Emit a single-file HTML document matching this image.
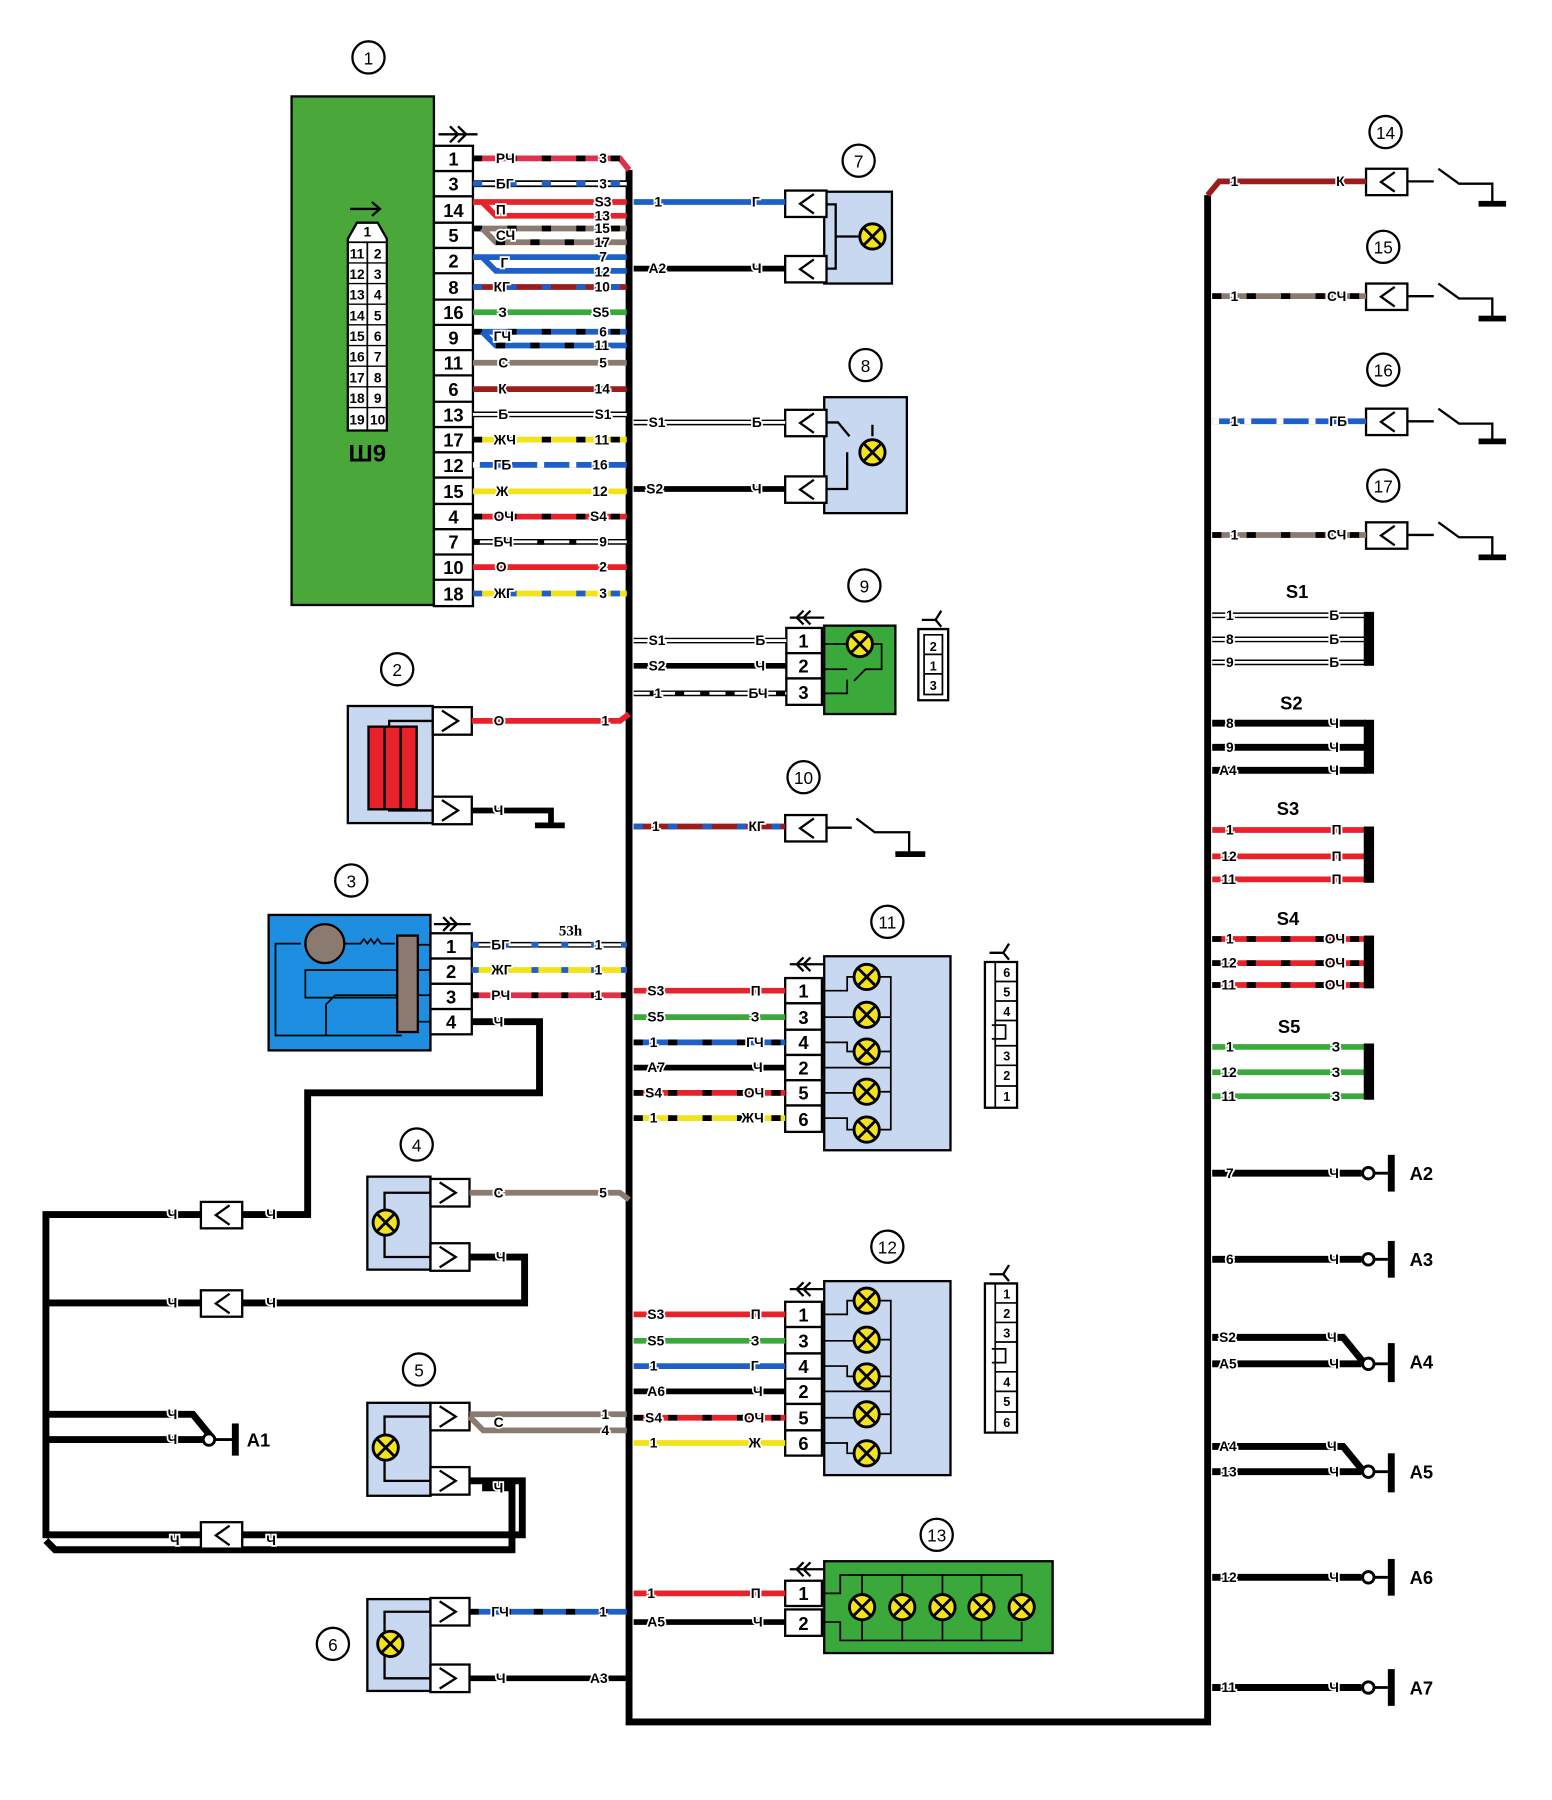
<!DOCTYPE html>
<html><head><meta charset="utf-8"><style>
html,body{margin:0;padding:0;background:#fff}
svg{display:block}
.t{font:bold 12px "Liberation Sans",sans-serif;fill:#000;paint-order:stroke;stroke:#fff;stroke-width:3px}
.n{font:bold 16px "Liberation Sans",sans-serif;fill:#000;text-anchor:middle}
.c{font:15px "Liberation Sans",sans-serif;fill:#000;text-anchor:middle}
.s{font:bold 11px "Liberation Sans",sans-serif;fill:#000;text-anchor:middle}
.L{font:bold 16px "Liberation Sans",sans-serif;fill:#000}
</style></head><body>
<svg width="1552" height="1800" viewBox="0 0 1352 1568" preserveAspectRatio="none" xmlns="http://www.w3.org/2000/svg">
<defs>
<g id="lamp"><circle r="11" fill="#f5e21e" stroke="#000" stroke-width="2.5"/><path d="M-7,-7L7,7M7,-7L-7,7" stroke="#000" stroke-width="2.5"/></g>
<g id="fc"><rect x="0" y="0" width="36" height="23" fill="#fff" stroke="#000" stroke-width="2"/><path d="M25,3L13,11.5L25,20" fill="none" stroke="#000" stroke-width="2"/></g>
<g id="mc"><rect x="0" y="0" width="34" height="24" fill="#fff" stroke="#000" stroke-width="2"/><path d="M8,3L22,12L8,21" fill="none" stroke="#000" stroke-width="2"/></g>
<g id="gnd"><path d="M0,0h-12M-12,0" stroke="#000" stroke-width="2"/></g>
</defs>
<rect width="1352" height="1568" fill="#fff"/>

<!-- MAIN BUS -->
<path d="M548,148V1500H1052V170" fill="none" stroke="#000" stroke-width="6"/>

<!-- COMPONENT 1 -->
<circle cx="321" cy="50" r="14" fill="#fff" stroke="#000" stroke-width="2"/><text class="c" x="321" y="56">1</text>
<rect x="254" y="84" width="124" height="443" fill="#4aa83a" stroke="#000" stroke-width="2"/>
<path d="M305,182h26M324,176l7,6l-7,6" fill="none" stroke="#000" stroke-width="2"/>
<path d="M303,375V208l8,-14h18l8,14V375Z" fill="#fff" stroke="#000" stroke-width="2"/>
<path d="M303,211h34M320,211V375" stroke="#000" stroke-width="1.5"/>
<g stroke="#000" stroke-width="1.2"><path d="M303,229h34M303,247h34M303,265h34M303,283h34M303,301h34M303,319h34M303,337h34M303,355h34"/></g>
<g class="s" style="font-size:12px"><text x="320" y="206">1</text>
<text x="311" y="225">11</text><text x="329" y="225">2</text>
<text x="311" y="243">12</text><text x="329" y="243">3</text>
<text x="311" y="261">13</text><text x="329" y="261">4</text>
<text x="311" y="279">14</text><text x="329" y="279">5</text>
<text x="311" y="297">15</text><text x="329" y="297">6</text>
<text x="311" y="315">16</text><text x="329" y="315">7</text>
<text x="311" y="333">17</text><text x="329" y="333">8</text>
<text x="311" y="351">18</text><text x="329" y="351">9</text>
<text x="311" y="370">19</text><text x="329" y="370">10</text></g>
<text x="320" y="402" style="font:bold 21px 'Liberation Sans',sans-serif;text-anchor:middle">Ш9</text>
<path d="M382,117h34M392,110l7,7l-7,7M399,110l7,7l-7,7" fill="none" stroke="#000" stroke-width="2"/>
<g fill="#fff" stroke="#000" stroke-width="2">
<rect x="378" y="127" width="34" height="401"/></g>
<g stroke="#000" stroke-width="2"><path d="M378,149h34M378,171h34M378,194h34M378,216h34M378,238h34M378,261h34M378,283h34M378,305h34M378,327h34M378,350h34M378,372h34M378,394h34M378,416h34M378,439h34M378,461h34M378,483h34M378,505h34"/></g>
<g class="n"><text x="395" y="144">1</text><text x="395" y="166">3</text><text x="395" y="189">14</text><text x="395" y="211">5</text><text x="395" y="233">2</text><text x="395" y="256">8</text><text x="395" y="278">16</text><text x="395" y="300">9</text><text x="395" y="322">11</text><text x="395" y="345">6</text><text x="395" y="367">13</text><text x="395" y="389">17</text><text x="395" y="411">12</text><text x="395" y="434">15</text><text x="395" y="456">4</text><text x="395" y="478">7</text><text x="395" y="500">10</text><text x="395" y="523">18</text></g>

<!-- wires from comp 1 -->
<g fill="none" stroke-width="5">
<path d="M412,138H540l8,10" stroke="#e0304a"/><path d="M412,138H540" stroke="#000" stroke-dasharray="8 22"/>
<path d="M412,160H546" stroke="#000" stroke-width="6"/><path d="M412,160H546" stroke="#fff" stroke-width="3"/><path d="M412,160H546" stroke="#1f5fc8" stroke-dasharray="8 22"/>
<path d="M412,176H546" stroke="#e8222a"/><path d="M420,176l12,12H546" stroke="#e8222a"/>
<path d="M412,199H546" stroke="#8a7a70"/><path d="M412,199H546" stroke="#000" stroke-dasharray="8 22"/><path d="M420,199l12,12H546" stroke="#8a7a70"/><path d="M432,211H546" stroke="#000" stroke-dasharray="8 22"/>
<path d="M412,224H546" stroke="#1f5fc8"/><path d="M420,224l12,12H546" stroke="#1f5fc8"/>
<path d="M412,250H546" stroke="#9b1c1c"/><path d="M412,250H546" stroke="#1f5fc8" stroke-dasharray="8 22"/>
<path d="M412,272H546" stroke="#3aa83a"/>
<path d="M412,289H546" stroke="#1f5fc8"/><path d="M412,289H546" stroke="#000" stroke-dasharray="8 22"/><path d="M420,289l12,12H546" stroke="#1f5fc8"/><path d="M432,301H546" stroke="#000" stroke-dasharray="8 22"/>
<path d="M412,316H546" stroke="#8a7a70"/>
<path d="M412,339H546" stroke="#9b1c1c"/>
<path d="M412,361H546" stroke="#000" stroke-width="5"/><path d="M412,361H546" stroke="#fff" stroke-width="2.5"/>
<path d="M412,383H546" stroke="#f2e21a"/><path d="M412,383H546" stroke="#000" stroke-dasharray="8 22"/>
<path d="M412,405H546" stroke="#1f5fc8"/><path d="M412,405H546" stroke="#fff" stroke-dasharray="6 22"/>
<path d="M412,428H546" stroke="#f2e21a"/>
<path d="M412,450H546" stroke="#e8222a"/><path d="M412,450H546" stroke="#000" stroke-dasharray="8 22"/>
<path d="M412,472H546" stroke="#000" stroke-width="5"/><path d="M412,472H546" stroke="#fff" stroke-width="2.5"/><path d="M412,472H546" stroke="#000" stroke-dasharray="6 22"/>
<path d="M412,494H546" stroke="#e8222a"/>
<path d="M412,517H546" stroke="#f2e21a"/><path d="M412,517H546" stroke="#1f5fc8" stroke-dasharray="8 22"/>
</g>
<g class="t">
<text x="432" y="142">РЧ</text><text x="522" y="142">3</text>
<text x="432" y="164">БГ</text><text x="522" y="164">3</text>
<text x="432" y="187">П</text><text x="518" y="180">S3</text><text x="518" y="192">13</text>
<text x="432" y="209">СЧ</text><text x="518" y="203">15</text><text x="518" y="215">17</text>
<text x="436" y="233">Г</text><text x="522" y="228">7</text><text x="518" y="241">12</text>
<text x="430" y="254">КГ</text><text x="518" y="254">10</text>
<text x="434" y="276">З</text><text x="516" y="276">S5</text>
<text x="430" y="297">ГЧ</text><text x="522" y="293">6</text><text x="518" y="305">11</text>
<text x="434" y="320">С</text><text x="522" y="320">5</text>
<text x="434" y="343">К</text><text x="518" y="343">14</text>
<text x="434" y="365">Б</text><text x="518" y="365">S1</text>
<text x="430" y="387">ЖЧ</text><text x="518" y="387">11</text>
<text x="430" y="409">ГБ</text><text x="516" y="409">16</text>
<text x="432" y="432">Ж</text><text x="516" y="432">12</text>
<text x="430" y="454">ОЧ</text><text x="514" y="454">S4</text>
<text x="430" y="476">БЧ</text><text x="522" y="476">9</text>
<text x="432" y="498">О</text><text x="522" y="498">2</text>
<text x="430" y="521">ЖГ</text><text x="522" y="521">3</text>
</g>

<!-- COMPONENT 7 -->
<circle cx="748" cy="140" r="14" fill="#fff" stroke="#000" stroke-width="2"/><text class="c" x="748" y="146">7</text>
<rect x="718" y="167" width="59" height="80" fill="#c8d8f0" stroke="#000" stroke-width="2"/>
<path d="M718,178h10v56h-10M728,206h20" fill="none" stroke="#000" stroke-width="2"/>
<use href="#fc" x="684" y="166"/><use href="#fc" x="684" y="223"/>
<use href="#lamp" x="760" y="206"/>
<path d="M552,176H684" stroke="#1f5fc8" stroke-width="5"/><path d="M552,234H684" stroke="#000" stroke-width="5"/>
<g class="t"><text x="570" y="180">1</text><text x="655" y="180">Г</text><text x="565" y="238">А2</text><text x="655" y="238">Ч</text></g>

<!-- COMPONENT 8 -->
<circle cx="754" cy="318" r="14" fill="#fff" stroke="#000" stroke-width="2"/><text class="c" x="754" y="324">8</text>
<rect x="718" y="346" width="72" height="101" fill="#c8d8f0" stroke="#000" stroke-width="2"/>
<path d="M718,368h12l10,12M744,384h0M718,426h20v-32M760,380v-10" fill="none" stroke="#000" stroke-width="2"/>
<use href="#fc" x="684" y="357"/><use href="#fc" x="684" y="415"/>
<use href="#lamp" x="760" y="394"/>
<path d="M552,368H684" stroke="#000" stroke-width="5"/><path d="M552,368H684" stroke="#fff" stroke-width="2.5"/>
<path d="M552,426H684" stroke="#000" stroke-width="5"/>
<g class="t"><text x="565" y="372">S1</text><text x="655" y="372">Б</text><text x="563" y="430">S2</text><text x="655" y="430">Ч</text></g>

<!-- COMPONENT 9 -->
<circle cx="753" cy="510" r="14" fill="#fff" stroke="#000" stroke-width="2"/><text class="c" x="753" y="516">9</text>
<rect x="718" y="545" width="62" height="77" fill="#3aa83a" stroke="#000" stroke-width="2"/>
<path d="M716,561h24M758,561h10v22h-14l-10,10M716,583h22M716,604h22v-12" fill="none" stroke="#000" stroke-width="1.5"/>
<use href="#lamp" x="749" y="561"/>
<path d="M688,538h30M700,532l-6,6l6,6M706,532l-6,6l6,6" fill="none" stroke="#000" stroke-width="2"/>
<g fill="#fff" stroke="#000" stroke-width="2"><rect x="685" y="547" width="31" height="22"/><rect x="685" y="569" width="31" height="22"/><rect x="685" y="591" width="31" height="23"/></g>
<g class="n"><text x="700" y="564">1</text><text x="700" y="586">2</text><text x="700" y="609">3</text></g>
<path d="M800,548h26v62h-26Z" fill="#fff" stroke="#000" stroke-width="2"/><path d="M805,553h16v52h-16ZM805,570h16M805,587h16" fill="none" stroke="#000" stroke-width="1.5"/>
<path d="M803,540h12l5,-8M815,540l5,6" fill="none" stroke="#000" stroke-width="2"/>
<g class="s"><text x="813" y="567">2</text><text x="813" y="584">1</text><text x="813" y="601">3</text></g>
<path d="M552,558H685" stroke="#000" stroke-width="5"/><path d="M552,558H685" stroke="#fff" stroke-width="2.5"/>
<path d="M552,580H685" stroke="#000" stroke-width="5"/>
<path d="M552,604H685" stroke="#000" stroke-width="5"/><path d="M552,604H685" stroke="#fff" stroke-width="2.5" stroke-dasharray="14 8"/>
<g class="t"><text x="565" y="562">S1</text><text x="658" y="562">Б</text><text x="565" y="584">S2</text><text x="658" y="584">Ч</text><text x="570" y="608">1</text><text x="652" y="608">БЧ</text></g>

<!-- COMPONENT 10 -->
<circle cx="700" cy="677" r="14" fill="#fff" stroke="#000" stroke-width="2"/><text class="c" x="700" y="683">10</text>
<use href="#fc" x="684" y="710"/>
<path d="M720,721h22M746,713l16,12h30v18M780,743h26" fill="none" stroke="#000" stroke-width="2"/>
<path d="M780,744h26" stroke="#000" stroke-width="5"/>
<path d="M552,720H684" stroke="#9b1c1c" stroke-width="5"/><path d="M552,720H684" stroke="#1f5fc8" stroke-width="5" stroke-dasharray="8 22"/>
<g class="t"><text x="568" y="724">1</text><text x="652" y="724">КГ</text></g>

<!-- COMPONENT 11 -->
<circle cx="773" cy="803" r="14" fill="#fff" stroke="#000" stroke-width="2"/><text class="c" x="773" y="809">11</text>
<rect x="718" y="833" width="110" height="169" fill="#c8d8f0" stroke="#000" stroke-width="2"/>
<path d="M688,840h30M700,834l-6,6l6,6M706,834l-6,6l6,6" fill="none" stroke="#000" stroke-width="2"/>
<path d="M716,863h22v-12h6M716,886h28M716,908h22v8h6M716,930h60M716,952h28M716,974h22v10h6M766,851h10v133h-10M766,886h10M766,916h10M766,951h10" fill="none" stroke="#000" stroke-width="1.5"/>
<use href="#lamp" x="755" y="851"/><use href="#lamp" x="755" y="884"/><use href="#lamp" x="755" y="916"/><use href="#lamp" x="755" y="951"/><use href="#lamp" x="755" y="984"/>
<g fill="#fff" stroke="#000" stroke-width="2"><rect x="684" y="852" width="32" height="22"/><rect x="684" y="874" width="32" height="23"/><rect x="684" y="897" width="32" height="22"/><rect x="684" y="919" width="32" height="22"/><rect x="684" y="941" width="32" height="22"/><rect x="684" y="963" width="32" height="23"/></g>
<g class="n"><text x="700" y="869">1</text><text x="700" y="892">3</text><text x="700" y="914">4</text><text x="700" y="936">2</text><text x="700" y="958">5</text><text x="700" y="981">6</text></g>
<path d="M858,838h28v127h-28Z" fill="#fff" stroke="#000" stroke-width="2"/><path d="M867,838v127M867,855h19M867,872h19M867,889h19M867,911h19M867,928h19M867,946h19M864,893h12v12h-12" fill="none" stroke="#000" stroke-width="1.5"/>
<path d="M862,830h12l5,-8M874,830l5,6" fill="none" stroke="#000" stroke-width="2"/>
<g class="s"><text x="877" y="851">6</text><text x="877" y="868">5</text><text x="877" y="885">4</text><text x="877" y="924">3</text><text x="877" y="941">2</text><text x="877" y="959">1</text></g>
<g fill="none" stroke-width="5">
<path d="M552,863H684" stroke="#e8222a"/>
<path d="M552,886H684" stroke="#3aa83a"/>
<path d="M552,908H684" stroke="#1f5fc8"/><path d="M552,908H684" stroke="#000" stroke-dasharray="8 22"/>
<path d="M552,930H684" stroke="#000"/>
<path d="M552,952H684" stroke="#e8222a"/><path d="M552,952H684" stroke="#000" stroke-dasharray="8 22"/>
<path d="M552,974H684" stroke="#f2e21a"/><path d="M552,974H684" stroke="#000" stroke-dasharray="8 22"/>
</g>
<g class="t"><text x="564" y="867">S3</text><text x="654" y="867">П</text><text x="564" y="890">S5</text><text x="654" y="890">З</text><text x="566" y="912">1</text><text x="650" y="912">ГЧ</text><text x="564" y="934">А7</text><text x="656" y="934">Ч</text><text x="562" y="956">S4</text><text x="648" y="956">ОЧ</text><text x="566" y="978">1</text><text x="646" y="978">ЖЧ</text></g>

<!-- COMPONENT 12 -->
<circle cx="773" cy="1086" r="14" fill="#fff" stroke="#000" stroke-width="2"/><text class="c" x="773" y="1092">12</text>
<rect x="718" y="1116" width="110" height="169" fill="#c8d8f0" stroke="#000" stroke-width="2"/>
<path d="M688,1123h30M700,1117l-6,6l6,6M706,1117l-6,6l6,6" fill="none" stroke="#000" stroke-width="2"/>
<path d="M716,1145h22v-12h6M716,1168h28M716,1190h22v9h6M716,1212h60M716,1235h28M716,1257h22v9h6M766,1133h10v133h-10M766,1167h10M766,1199h10M766,1232h10" fill="none" stroke="#000" stroke-width="1.5"/>
<use href="#lamp" x="755" y="1133"/><use href="#lamp" x="755" y="1167"/><use href="#lamp" x="755" y="1199"/><use href="#lamp" x="755" y="1232"/><use href="#lamp" x="755" y="1266"/>
<g fill="#fff" stroke="#000" stroke-width="2"><rect x="684" y="1134" width="32" height="22"/><rect x="684" y="1156" width="32" height="23"/><rect x="684" y="1179" width="32" height="22"/><rect x="684" y="1201" width="32" height="22"/><rect x="684" y="1223" width="32" height="23"/><rect x="684" y="1246" width="32" height="22"/></g>
<g class="n"><text x="700" y="1151">1</text><text x="700" y="1174">3</text><text x="700" y="1196">4</text><text x="700" y="1218">2</text><text x="700" y="1241">5</text><text x="700" y="1263">6</text></g>
<path d="M858,1118h28v130h-28Z" fill="#fff" stroke="#000" stroke-width="2"/><path d="M867,1118v130M867,1135h19M867,1152h19M867,1169h19M867,1195h19M867,1212h19M867,1230h19M864,1175h12v12h-12" fill="none" stroke="#000" stroke-width="1.5"/>
<path d="M862,1110h12l5,-8M874,1110l5,6" fill="none" stroke="#000" stroke-width="2"/>
<g class="s"><text x="877" y="1131">1</text><text x="877" y="1148">2</text><text x="877" y="1165">3</text><text x="877" y="1208">4</text><text x="877" y="1225">5</text><text x="877" y="1243">6</text></g>
<g fill="none" stroke-width="5">
<path d="M552,1145H684" stroke="#e8222a"/>
<path d="M552,1168H684" stroke="#3aa83a"/>
<path d="M552,1190H684" stroke="#1f5fc8"/>
<path d="M552,1212H684" stroke="#000"/>
<path d="M552,1235H684" stroke="#e8222a"/><path d="M552,1235H684" stroke="#000" stroke-dasharray="8 22"/>
<path d="M552,1257H684" stroke="#f2e21a"/>
</g>
<g class="t"><text x="564" y="1149">S3</text><text x="654" y="1149">П</text><text x="564" y="1172">S5</text><text x="654" y="1172">З</text><text x="566" y="1194">1</text><text x="654" y="1194">Г</text><text x="564" y="1216">А6</text><text x="656" y="1216">Ч</text><text x="562" y="1239">S4</text><text x="648" y="1239">ОЧ</text><text x="566" y="1261">1</text><text x="652" y="1261">Ж</text></g>

<!-- COMPONENT 13 -->
<circle cx="816" cy="1337" r="14" fill="#fff" stroke="#000" stroke-width="2"/><text class="c" x="816" y="1343">13</text>
<rect x="718" y="1360" width="199" height="80" fill="#3aa83a" stroke="#000" stroke-width="2"/>
<path d="M688,1367h30M700,1361l-6,6l6,6M706,1361l-6,6l6,6" fill="none" stroke="#000" stroke-width="2"/>
<path d="M716,1388h16v-16h158v16M716,1413h16v16h158v-16M751,1372v17M786,1372v17M821,1372v17M855,1372v17M890,1372v17M751,1411v18M786,1411v18M821,1411v18M855,1411v18" fill="none" stroke="#000" stroke-width="1.5"/>
<use href="#lamp" x="751" y="1400"/><use href="#lamp" x="786" y="1400"/><use href="#lamp" x="821" y="1400"/><use href="#lamp" x="855" y="1400"/><use href="#lamp" x="890" y="1400"/>
<g fill="#fff" stroke="#000" stroke-width="2"><rect x="684" y="1377" width="32" height="22"/><rect x="684" y="1402" width="32" height="23"/></g>
<g class="n"><text x="700" y="1394">1</text><text x="700" y="1420">2</text></g>
<path d="M552,1388H684" stroke="#e8222a" stroke-width="5"/><path d="M552,1413H684" stroke="#000" stroke-width="5"/>
<g class="t"><text x="564" y="1392">1</text><text x="654" y="1392">П</text><text x="564" y="1417">А5</text><text x="656" y="1417">Ч</text></g>

<!-- COMPONENT 2 -->
<circle cx="346" cy="583" r="14" fill="#fff" stroke="#000" stroke-width="2"/><text class="c" x="346" y="589">2</text>
<rect x="303" y="615" width="74" height="102" fill="#c8d8f0" stroke="#000" stroke-width="2"/>
<path d="M377,628h-38v78h38" fill="none" stroke="#000" stroke-width="2"/>
<path d="M321,633h42v72h-42Z" fill="#e8222a" stroke="#000" stroke-width="2"/><path d="M335,633v72M349,633v72" stroke="#000" stroke-width="2"/>
<use href="#mc" x="377" y="616"/><use href="#mc" x="377" y="694"/>
<path d="M411,628H540l8,-6" stroke="#e8222a" stroke-width="5" fill="none"/>
<path d="M411,706H480v12M466,719h26" stroke="#000" stroke-width="5" fill="none"/>
<g class="t"><text x="430" y="632">О</text><text x="524" y="632">1</text><text x="430" y="710">Ч</text></g>

<!-- COMPONENT 3 -->
<circle cx="306" cy="767" r="14" fill="#fff" stroke="#000" stroke-width="2"/><text class="c" x="306" y="773">3</text>
<rect x="234" y="797" width="141" height="118" fill="#1e8fe0" stroke="#000" stroke-width="2"/>
<circle cx="283" cy="822" r="17" fill="#8a7a70" stroke="#000" stroke-width="2"/>
<path d="M262,822h-22v80h110M300,822h14l3,-4l3,4l3,-4l3,4l3,-4l3,4h12M350,845h-84v24h84M350,867h-58l-8,8v27M375,823h-20M375,845h-20M375,867h-20M375,890h-20" fill="none" stroke="#000" stroke-width="1.5"/>
<rect x="346" y="815" width="18" height="84" fill="#8a7a70" stroke="#000" stroke-width="2"/>
<path d="M378,805h32M386,799l6,6l-6,6M392,799l6,6l-6,6" fill="none" stroke="#000" stroke-width="2"/>
<g fill="#fff" stroke="#000" stroke-width="2"><rect x="375" y="813" width="36" height="22"/><rect x="375" y="835" width="36" height="22"/><rect x="375" y="857" width="36" height="22"/><rect x="375" y="879" width="36" height="22"/></g>
<g class="n"><text x="393" y="830">1</text><text x="393" y="852">2</text><text x="393" y="874">3</text><text x="393" y="896">4</text></g>
<g fill="none" stroke-width="5">
<path d="M411,823H546" stroke="#000"/><path d="M411,823H546" stroke="#fff" stroke-width="2.5"/><path d="M411,823H546" stroke="#1f5fc8" stroke-dasharray="6 20"/>
<path d="M411,845H546" stroke="#f2e21a"/><path d="M411,845H546" stroke="#1f5fc8" stroke-dasharray="6 20"/>
<path d="M411,867H546" stroke="#e0304a"/><path d="M411,867H546" stroke="#000" stroke-dasharray="6 20"/>
<path d="M411,890H470V952H268V1058H40V1340" stroke="#000" stroke-width="6"/>
</g>
<text x="497" y="815" style="font:bold 13px 'Liberation Serif',serif;text-anchor:middle">53h</text>
<g class="t"><text x="428" y="827">БГ</text><text x="518" y="827">1</text><text x="428" y="849">ЖГ</text><text x="518" y="849">1</text><text x="428" y="871">РЧ</text><text x="518" y="871">1</text><text x="430" y="894">Ч</text></g>

<!-- LEFT LOOP / COMPONENT 4 -->
<circle cx="363" cy="997" r="14" fill="#fff" stroke="#000" stroke-width="2"/><text class="c" x="363" y="1003">4</text>
<rect x="320" y="1025" width="55" height="81" fill="#c8d8f0" stroke="#000" stroke-width="2"/>
<path d="M375,1039h-40v56h40" fill="none" stroke="#000" stroke-width="2"/>
<use href="#lamp" x="336" y="1065"/>
<use href="#mc" x="375" y="1027"/><use href="#mc" x="375" y="1083"/>
<path d="M409,1039H540l8,6" stroke="#8a7a70" stroke-width="5" fill="none"/>
<path d="M409,1095H457V1135H40" stroke="#000" stroke-width="6" fill="none"/>
<use href="#fc" x="175" y="1047"/><use href="#fc" x="175" y="1124"/>
<g class="t"><text x="430" y="1043">С</text><text x="522" y="1043">5</text><text x="432" y="1099">Ч</text>
<text x="146" y="1062">Ч</text><text x="232" y="1062">Ч</text><text x="146" y="1139">Ч</text><text x="232" y="1139">Ч</text></g>

<!-- A1 -->
<path d="M40,1232H168l18,22M40,1254H178" stroke="#000" stroke-width="6" fill="none"/>
<circle cx="182" cy="1254" r="5" fill="#fff" stroke="#000" stroke-width="2.5"/>
<path d="M187,1254h16" stroke="#000" stroke-width="2.5"/><rect x="202" y="1240" width="6" height="28" fill="#000"/>
<text class="L" x="215" y="1260">А1</text>
<g class="t"><text x="146" y="1236">Ч</text><text x="146" y="1258">Ч</text></g>

<!-- COMPONENT 5 -->
<circle cx="365" cy="1193" r="14" fill="#fff" stroke="#000" stroke-width="2"/><text class="c" x="365" y="1199">5</text>
<rect x="320" y="1222" width="55" height="81" fill="#c8d8f0" stroke="#000" stroke-width="2"/>
<path d="M375,1234h-40v56h40" fill="none" stroke="#000" stroke-width="2"/>
<use href="#lamp" x="336" y="1261"/>
<use href="#mc" x="375" y="1222"/><use href="#mc" x="375" y="1278"/>
<path d="M409,1232H546M409,1234l12,12H546" stroke="#8a7a70" stroke-width="5" fill="none"/>
<path d="M409,1290H455V1337H40M420,1296H446V1350H48l-8,-8" stroke="#000" stroke-width="6" fill="none"/>
<use href="#fc" x="175" y="1326"/>
<g class="t"><text x="430" y="1243">С</text><text x="524" y="1236">1</text><text x="524" y="1250">4</text><text x="430" y="1300">Ч</text><text x="148" y="1346">Ч</text><text x="232" y="1346">Ч</text></g>

<!-- COMPONENT 6 -->
<circle cx="290" cy="1432" r="14" fill="#fff" stroke="#000" stroke-width="2"/><text class="c" x="290" y="1438">6</text>
<rect x="320" y="1393" width="55" height="80" fill="#c8d8f0" stroke="#000" stroke-width="2"/>
<path d="M375,1404h-40v58h40" fill="none" stroke="#000" stroke-width="2"/>
<use href="#lamp" x="340" y="1432"/>
<use href="#mc" x="375" y="1392"/><use href="#mc" x="375" y="1450"/>
<path d="M409,1404H546" stroke="#1f5fc8" stroke-width="5"/><path d="M409,1404H546" stroke="#000" stroke-width="5" stroke-dasharray="8 20"/>
<path d="M409,1462H546" stroke="#000" stroke-width="5"/>
<g class="t"><text x="428" y="1408">ГЧ</text><text x="522" y="1408">1</text><text x="432" y="1466">Ч</text><text x="514" y="1466">А3</text></g>

<!-- RIGHT: 14-17 -->
<g fill="none" stroke="#000" stroke-width="2">
<path d="M1227,158h22M1253,147l18,13h29v17M1227,258h22M1253,247l18,13h29v17M1227,367h22M1253,356l18,13h29v15M1227,466h22M1253,455l18,13h29v17"/>
</g>
<g fill="#000"><rect x="1288" y="175" width="24" height="5"/><rect x="1288" y="275" width="24" height="5"/><rect x="1288" y="382" width="24" height="5"/><rect x="1288" y="483" width="24" height="5"/></g>
<use href="#fc" x="1190" y="147"/><use href="#fc" x="1190" y="247"/><use href="#fc" x="1190" y="356"/><use href="#fc" x="1190" y="455"/>
<g fill="none" stroke-width="5">
<path d="M1052,170l10,-12H1190" stroke="#9b1c1c"/>
<path d="M1056,258H1190" stroke="#8a7a70"/><path d="M1056,258H1190" stroke="#000" stroke-dasharray="8 22"/>
<path d="M1056,367H1190" stroke="#1f5fc8"/><path d="M1056,367H1190" stroke="#fff" stroke-dasharray="6 22"/>
<path d="M1056,466H1190" stroke="#8a7a70"/><path d="M1056,466H1190" stroke="#000" stroke-dasharray="8 22"/>
</g>
<g class="t"><text x="1072" y="162">1</text><text x="1164" y="162">К</text><text x="1072" y="262">1</text><text x="1156" y="262">СЧ</text><text x="1072" y="371">1</text><text x="1158" y="371">ГБ</text><text x="1072" y="470">1</text><text x="1156" y="470">СЧ</text></g>
<g fill="#fff" stroke="#000" stroke-width="2">
<circle cx="1207" cy="115" r="14"/><circle cx="1205" cy="215" r="14"/><circle cx="1205" cy="322" r="14"/><circle cx="1205" cy="423" r="14"/></g>
<g class="c"><text x="1207" y="121">14</text><text x="1205" y="221">15</text><text x="1205" y="328">16</text><text x="1205" y="429">17</text></g>

<!-- S1..S5 -->
<g class="L" style="text-anchor:middle"><text x="1130" y="521">S1</text><text x="1125" y="618">S2</text><text x="1122" y="710">S3</text><text x="1122" y="806">S4</text><text x="1123" y="900">S5</text></g>
<g fill="none" stroke-width="5">
<path d="M1056,536H1190M1056,557H1190M1056,577H1190" stroke="#000"/><path d="M1056,536H1190M1056,557H1190M1056,577H1190" stroke="#fff" stroke-width="2.5"/>
<path d="M1056,630H1190M1056,651H1190M1056,671H1190" stroke="#000" stroke-width="6"/>
<path d="M1056,723H1190M1056,746H1190M1056,766H1190" stroke="#e8222a"/>
<path d="M1056,818H1190M1056,839H1190M1056,858H1190" stroke="#e8222a"/><path d="M1056,818H1190M1056,839H1190M1056,858H1190" stroke="#000" stroke-dasharray="8 22"/>
<path d="M1056,912H1190M1056,934H1190M1056,955H1190" stroke="#3aa83a"/>
</g>
<g fill="#000"><rect x="1188" y="533" width="9" height="47"/><rect x="1188" y="627" width="9" height="47"/><rect x="1188" y="720" width="9" height="49"/><rect x="1188" y="815" width="9" height="46"/><rect x="1188" y="909" width="9" height="49"/></g>
<g class="t">
<text x="1068" y="540">1</text><text x="1158" y="540">Б</text><text x="1068" y="561">8</text><text x="1158" y="561">Б</text><text x="1068" y="581">9</text><text x="1158" y="581">Б</text>
<text x="1068" y="634">8</text><text x="1158" y="634">Ч</text><text x="1068" y="655">9</text><text x="1158" y="655">Ч</text><text x="1062" y="675">А4</text><text x="1158" y="675">Ч</text>
<text x="1068" y="727">1</text><text x="1160" y="727">П</text><text x="1064" y="750">12</text><text x="1160" y="750">П</text><text x="1064" y="770">11</text><text x="1160" y="770">П</text>
<text x="1068" y="822">1</text><text x="1154" y="822">ОЧ</text><text x="1064" y="843">12</text><text x="1154" y="843">ОЧ</text><text x="1064" y="862">11</text><text x="1154" y="862">ОЧ</text>
<text x="1068" y="916">1</text><text x="1160" y="916">З</text><text x="1064" y="938">12</text><text x="1160" y="938">З</text><text x="1064" y="959">11</text><text x="1160" y="959">З</text>
</g>

<!-- A2..A7 -->
<g fill="none" stroke="#000" stroke-width="6">
<path d="M1056,1022H1186M1056,1097H1186M1056,1165H1170l18,22M1056,1188H1186M1056,1260H1170l18,22M1056,1282H1186M1056,1374H1186M1056,1470H1186"/>
</g>
<g fill="#fff" stroke="#000" stroke-width="2.5"><circle cx="1192" cy="1022" r="5"/><circle cx="1192" cy="1097" r="5"/><circle cx="1192" cy="1188" r="5"/><circle cx="1192" cy="1282" r="5"/><circle cx="1192" cy="1374" r="5"/><circle cx="1192" cy="1470" r="5"/></g>
<g stroke="#000" stroke-width="2.5"><path d="M1197,1022h12M1197,1097h12M1197,1188h12M1197,1282h12M1197,1374h12M1197,1470h12"/></g>
<g fill="#000"><rect x="1209" y="1006" width="6" height="32"/><rect x="1209" y="1081" width="6" height="32"/><rect x="1209" y="1170" width="6" height="34"/><rect x="1209" y="1266" width="6" height="34"/><rect x="1209" y="1358" width="6" height="32"/><rect x="1209" y="1454" width="6" height="32"/></g>
<g class="L"><text x="1228" y="1028">А2</text><text x="1228" y="1103">А3</text><text x="1228" y="1192">А4</text><text x="1228" y="1288">А5</text><text x="1228" y="1380">А6</text><text x="1228" y="1476">А7</text></g>
<g class="t">
<text x="1068" y="1026">7</text><text x="1158" y="1026">Ч</text><text x="1068" y="1101">6</text><text x="1158" y="1101">Ч</text>
<text x="1062" y="1169">S2</text><text x="1156" y="1169">Ч</text><text x="1062" y="1192">А5</text><text x="1158" y="1192">Ч</text>
<text x="1062" y="1264">А4</text><text x="1156" y="1264">Ч</text><text x="1064" y="1286">13</text><text x="1158" y="1286">Ч</text>
<text x="1064" y="1378">12</text><text x="1158" y="1378">Ч</text><text x="1064" y="1474">11</text><text x="1158" y="1474">Ч</text>
</g>
</svg>
</body></html>
